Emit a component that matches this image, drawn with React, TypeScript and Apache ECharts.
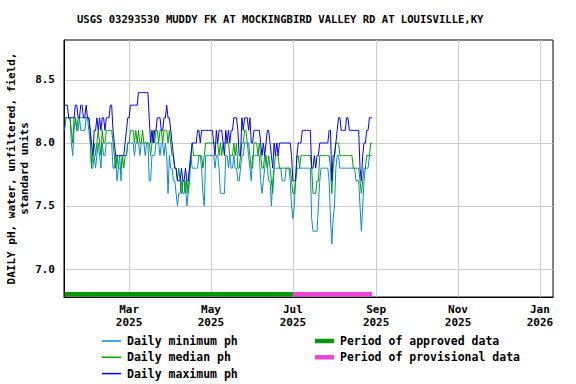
import React, { useEffect, useRef } from "react";
import * as echarts from "echarts";

const TITLE = "USGS 03293530 MUDDY FK AT MOCKINGBIRD VALLEY RD AT LOUISVILLE,KY";
const Y_NAME = "DAILY pH, water, unfiltered, field,\nstandard units";
const MONTHS = ["Jan", "Feb", "Mar", "Apr", "May", "Jun", "Jul", "Aug", "Sep", "Oct", "Nov", "Dec"];

// First daily value: 2025-01-12, one value per day
const START_DATE = [2025, 0, 12];

const maxPh = [
  8.3, 8.3, 8.3, 8.2, 8.2, 8.2, 8.2, 8.2, 8.3, 8.3, 8.2, 8.2, 8.3, 8.3, 8.2, 8.2, 8.3, 8.2, 8.2, 8.1,
  8.0, 7.9, 8.1, 8.1, 8.2, 8.1, 8.2, 8.1, 8.2, 8.2, 8.1, 8.2, 8.2, 8.2,
  8.3, 8.3, 8.1, 8.0, 7.9, 7.9, 7.9, 7.9, 7.9, 7.9, 7.9, 8.0, 8.1, 8.2, 8.2, 8.3, 8.3, 8.3, 8.3, 8.3,
  8.3, 8.4, 8.4, 8.4, 8.4, 8.4, 8.4, 8.4, 8.4, 8.2, 8.0, 8.1, 8.0,
  8.1, 8.1, 8.2, 8.2, 8.2, 8.1, 8.1, 8.2, 8.2, 8.3, 8.2, 8.2, 8.1, 8.0, 7.9, 7.8, 7.8, 7.7, 7.7, 7.7,
  7.8, 7.7, 7.7, 7.8, 7.7, 7.7, 7.8, 7.9, 8.0,
  8.0, 8.0, 8.0, 8.1, 8.1, 8.0, 8.1, 8.1, 8.1, 8.1, 8.1, 8.1, 8.1, 8.1, 8.1,
  8.0, 7.9, 8.1, 8.0, 8.1, 8.1, 8.1, 8.0, 7.9, 8.1, 8.0, 8.1, 8.0, 8.1, 8.1, 8.2, 8.2, 8.2, 8.1, 7.9,
  7.9, 8.2, 8.1, 8.2,
  8.2, 8.2, 8.1, 8.2, 8.0, 8.0, 8.1, 8.1, 8.1, 8.1, 8.1, 8.0, 7.9, 8.0, 7.9, 8.0, 8.1, 8.1, 8.0, 7.9,
  7.8, 8.0, 7.9, 8.0, 7.9, 8.0, 8.0, 8.0, 8.0, 8.0, 8.0, 8.0, 8.0,
  8.0, 7.9, 7.7, 7.7, 7.7, 7.9, 8.0, 8.0, 8.0, 8.1, 8.1, 8.1, 8.1, 8.1, 8.1, 8.1, 7.8, 7.8, 7.9, 7.8,
  7.9, 7.9, 8.0, 8.0, 8.0, 8.0, 8.0, 8.0, 8.0, 8.1, 8.1, 7.7, 7.9, 7.9,
  8.0, 8.1, 8.2, 8.2, 8.1, 8.1, 8.1, 8.1, 8.2, 8.2, 8.1, 8.1, 8.1, 8.1, 8.1, 8.1, 8.1, 8.1, 7.8, 7.7,
  7.9, 8.0, 8.0, 8.1, 8.1, 8.2, 8.2, 8.2,
];

const medianPh = [
  8.2, 8.2, 8.2, 8.2, 8.2, 8.1, 8.0, 8.2, 8.2, 8.1, 8.2, 8.2, 8.2, 8.2, 8.2, 8.2, 8.2, 8.2, 8.2, 8.1,
  7.8, 7.9, 8.0, 7.9, 8.0, 8.1, 8.0, 7.9, 8.1, 8.0, 8.0, 8.1, 8.1, 8.1,
  8.1, 8.1, 8.0, 7.9, 7.8, 7.9, 7.8, 7.8, 7.8, 7.9, 7.8, 7.9, 7.9, 8.0, 8.0, 8.1, 8.1, 8.1, 8.0, 8.1,
  8.0, 8.1, 8.0, 8.0, 8.1, 8.0, 8.0, 8.0, 8.0, 8.0, 7.9, 8.0, 8.1,
  8.0, 8.1, 8.1, 8.0, 8.1, 8.1, 8.0, 8.1, 8.1, 8.1, 8.0, 8.1, 8.0, 7.9, 7.9, 7.8, 7.8, 7.7, 7.8, 7.7,
  7.6, 7.7, 7.7, 7.6, 7.7, 7.6, 7.7, 7.9, 8.0,
  7.9, 7.9, 7.9, 7.9, 7.9, 7.9, 7.9, 7.8, 7.9, 8.0, 8.0, 8.0, 8.0, 8.0, 8.0,
  8.0, 8.0, 8.0, 8.0, 7.9, 8.0, 7.9, 8.0, 8.0, 8.0, 8.0, 8.0, 7.9, 7.9, 7.9, 8.0, 7.9, 8.0, 7.8, 7.8,
  7.9, 8.0, 8.0, 8.1,
  8.1, 8.0, 8.0, 7.9, 7.8, 7.8, 8.0, 8.0, 8.0, 7.9, 8.0, 7.9, 7.8, 7.8, 7.9, 7.9, 7.8, 7.9, 7.8, 7.7,
  7.6, 7.8, 7.9, 7.9, 7.9, 7.8, 7.8, 7.8, 7.8, 7.8, 7.8, 7.8, 7.8,
  7.8, 7.7, 7.6, 7.6, 7.7, 7.9, 7.9, 7.8, 7.9, 7.9, 7.9, 7.9, 7.9, 7.9, 7.9, 7.9, 7.8, 7.6, 7.6, 7.6,
  7.7, 7.7, 7.9, 7.9, 7.9, 7.9, 7.9, 7.9, 7.9, 7.9, 7.8, 7.6, 7.8, 7.9,
  8.0, 8.0, 8.0, 7.9, 7.9, 7.9, 7.9, 7.9, 7.9, 7.9, 7.9, 7.9, 7.9, 7.8, 7.8, 7.8, 7.8, 7.8, 7.7, 7.6,
  7.7, 7.8, 7.8, 7.9, 7.9, 7.9, 8.0, 8.0,
];

const minPh = [
  8.1, 8.2, 8.2, 8.2, 8.2, 8.0, 7.9, 8.1, 8.2, 8.1, 8.1, 8.2, 8.1, 8.1, 8.1, 8.1, 8.2, 8.2, 8.1, 8.0,
  7.8, 7.8, 7.9, 7.8, 7.9, 8.0, 7.9, 7.8, 8.0, 7.9, 7.9, 8.0, 8.0, 8.0,
  8.0, 8.0, 7.8, 7.8, 7.9, 7.7, 7.8, 7.9, 7.7, 7.9, 7.9, 7.9, 7.9, 8.0, 8.0, 8.0, 8.0, 8.0, 7.9, 8.0,
  8.0, 8.0, 7.9, 8.0, 8.0, 8.0, 7.9, 8.0, 8.0, 7.7, 7.7, 7.9, 7.9,
  7.9, 8.0, 8.0, 8.0, 7.9, 8.0, 8.0, 7.9, 8.0, 7.9, 7.6, 7.9, 7.8, 7.8, 7.7, 7.7, 7.6, 7.5, 7.6, 7.6,
  7.7, 7.6, 7.6, 7.7, 7.5, 7.6, 7.8, 7.9, 7.8,
  7.8, 7.8, 7.8, 7.8, 7.9, 7.9, 7.8, 7.6, 7.5, 7.9, 7.9, 7.9, 7.9, 7.9, 7.9,
  7.9, 7.8, 7.9, 7.9, 7.8, 7.6, 7.6, 7.6, 7.6, 7.9, 7.9, 7.8, 7.9, 7.8, 7.8, 7.9, 7.8, 7.8, 7.7, 7.7,
  7.8, 7.9, 7.9, 8.0,
  8.0, 8.0, 7.9, 7.8, 7.7, 7.9, 7.9, 7.9, 7.9, 7.9, 7.9, 7.7, 7.6, 7.7, 7.8, 7.9, 7.8, 7.7, 7.7, 7.5,
  7.7, 7.8, 7.8, 7.8, 7.8, 7.8, 7.8, 7.7, 7.7, 7.7, 7.8, 7.8, 7.8,
  7.7, 7.5, 7.4, 7.5, 7.7, 7.8, 7.8, 7.8, 7.8, 7.8, 7.8, 7.8, 7.8, 7.8, 7.8, 7.8, 7.4, 7.3, 7.3, 7.3,
  7.3, 7.5, 7.7, 7.8, 7.8, 7.8, 7.8, 7.8, 7.8, 7.7, 7.4, 7.2, 7.4, 7.5,
  7.8, 7.9, 7.9, 7.8, 7.8, 7.8, 7.8, 7.8, 7.8, 7.8, 7.8, 7.8, 7.8, 7.8, 7.8, 7.7, 7.7, 7.7, 7.5, 7.3,
  7.5, 7.7, 7.8, 7.8, 7.8, 7.9, 7.9, 7.9,
];

// Period bars: [start date, end date]
const approvedPeriod = [[2025, 0, 12], [2025, 6, 1]];
const provisionalPeriod = [[2025, 6, 1], [2025, 7, 29]];
const PERIOD_LEVEL = 6.8;

// X tick labels (month starts)
const xTickDates = [[2025, 2, 1], [2025, 4, 1], [2025, 6, 1], [2025, 8, 1], [2025, 10, 1], [2026, 0, 1]];
const yTickValues = [7.0, 7.5, 8.0, 8.5];

const X_MIN = new Date(2025, 0, 11, 12).getTime();
const X_MAX = new Date(2026, 0, 10, 18).getTime();
const Y_MIN = 6.778;
const Y_MAX = 8.817;

const FONT = "DejaVu Sans Mono";
const DAY = 86400000;

const ts = (d: number[]) => new Date(d[0], d[1], d[2]).getTime();

export default function App() {
  const ref = useRef<HTMLDivElement>(null);
  useEffect(() => {
    if (!ref.current) return;
    const chart = echarts.init(ref.current, null, { renderer: "svg" });
    const start = ts(START_DATE);
    const toSeries = (arr: number[]) => arr.map((v, i) => [start + i * DAY, v]);
    const periodData = (p: number[][]) => [[ts(p[0]), PERIOD_LEVEL], [ts(p[1]), PERIOD_LEVEL]];
    const legendText = { fontFamily: FONT, fontSize: 11.5, fontWeight: "bold", color: "#000", padding: [0, 0, 0, 1] };

    chart.setOption({
      animation: false,
      backgroundColor: "#ffffff",
      textStyle: { fontFamily: FONT },
      title: {
        text: TITLE,
        left: 72,
        top: 8,
        textStyle: { fontFamily: FONT, fontSize: 10.55, fontWeight: "bold", color: "#000" },
      },
      grid: {
        left: 64,
        right: 23,
        top: 40,
        bottom: 87,
        containLabel: false,
        outerBoundsMode: "none",
        show: true,
        borderColor: "#000",
        borderWidth: 1,
        backgroundColor: "transparent",
      },
      xAxis: {
        type: "value",
        min: X_MIN,
        max: X_MAX,
        axisLine: { show: true, lineStyle: { color: "#000", width: 1 } },
        axisTick: { show: false, customValues: xTickDates.map(ts) },
        splitLine: { show: true, lineStyle: { color: "#cccccc", width: 1 } },
        axisLabel: {
          customValues: xTickDates.map(ts),
          margin: 6,
          fontFamily: FONT,
          fontSize: 11,
          fontWeight: "bold",
          color: "#000",
          lineHeight: 13,
          hideOverlap: false,
          showMinLabel: true,
          showMaxLabel: true,
          formatter: (v: number) => {
            const d = new Date(v);
            return MONTHS[d.getMonth()] + "\n" + d.getFullYear();
          },
        },
      },
      yAxis: {
        type: "value",
        min: Y_MIN,
        max: Y_MAX,
        name: Y_NAME,
        nameLocation: "middle",
        nameGap: 33,
        nameMoveOverlap: false,
        nameRotate: 90,
        nameTextStyle: { fontFamily: FONT, fontSize: 11, fontWeight: "bold", color: "#000", lineHeight: 13 },
        axisLine: { show: true, lineStyle: { color: "#000", width: 1 } },
        axisTick: { show: false, customValues: yTickValues },
        splitLine: { show: true, lineStyle: { color: "#cccccc", width: 1 } },
        axisLabel: {
          customValues: yTickValues,
          margin: 9,
          fontFamily: FONT,
          fontSize: 11,
          fontWeight: "bold",
          color: "#000",
          formatter: (v: number) => v.toFixed(1),
        },
      },
      legend: [
        {
          data: ["Daily minimum ph", "Daily median ph", "Daily maximum ph"],
          orient: "vertical",
          left: 102,
          top: 334,
          padding: 0,
          icon: "rect",
          itemWidth: 19,
          itemHeight: 1.5,
          itemGap: 2.3,
          textStyle: { ...legendText, lineHeight: 14 },
          selectedMode: false,
        },
        {
          data: ["Period of approved data", "Period of provisional data"],
          orient: "vertical",
          left: 315,
          top: 334,
          padding: 0,
          icon: "rect",
          itemWidth: 19,
          itemHeight: 4.5,
          itemGap: 2.3,
          textStyle: { ...legendText, lineHeight: 14 },
          selectedMode: false,
        },
      ],
      series: [
        {
          name: "Daily minimum ph",
          type: "line",
          data: toSeries(minPh),
          showSymbol: false,
          symbol: "none",
          lineStyle: { color: "#0a8ad2", width: 1 },
          itemStyle: { color: "#0a8ad2" },
          z: 2,
        },
        {
          name: "Daily median ph",
          type: "line",
          data: toSeries(medianPh),
          showSymbol: false,
          symbol: "none",
          lineStyle: { color: "#00a000", width: 1 },
          itemStyle: { color: "#00a000" },
          z: 3,
        },
        {
          name: "Daily maximum ph",
          type: "line",
          data: toSeries(maxPh),
          showSymbol: false,
          symbol: "none",
          lineStyle: { color: "#0000ff", width: 1 },
          itemStyle: { color: "#0000ff" },
          z: 4,
        },
        {
          name: "Period of approved data",
          type: "line",
          data: periodData(approvedPeriod),
          symbol: "none",
          lineStyle: { color: "#009900", width: 4.5 },
          itemStyle: { color: "#009900" },
          z: 5,
        },
        {
          name: "Period of provisional data",
          type: "line",
          data: periodData(provisionalPeriod),
          symbol: "none",
          lineStyle: { color: "#ee44dd", width: 4.5 },
          itemStyle: { color: "#ee44dd" },
          z: 5,
        },
      ],
    });
    return () => chart.dispose();
  }, []);
  return <div ref={ref} style={{ position: "absolute", left: 0, top: 0, width: 576, height: 384 }} />;
}
